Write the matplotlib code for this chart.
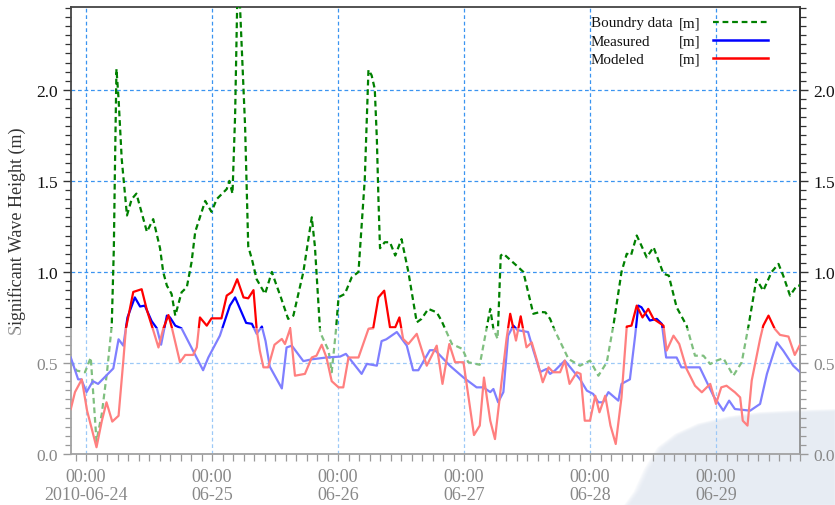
import numpy as np
import pandas as pd
import matplotlib
matplotlib.use("Agg")
import matplotlib.pyplot as plt
import matplotlib.dates as mdates
from matplotlib.patches import Rectangle, Polygon
from matplotlib.lines import Line2D
from matplotlib.ticker import MultipleLocator, FuncFormatter

# ---- data: hours after 2010-06-24 00:00 and significant wave height (m) ----
boundary_hours = [-2.9, -1.8, -0.2, 0.9, 2.0, 3.0, 4.0, 4.9, 5.3, 5.5, 5.8, 6.2, 6.8, 7.8, 8.7,
                  9.6, 11.6, 12.8, 14.1, 14.7, 15.4, 16.3, 17.0, 18.2, 19.2, 20.1, 20.8, 22.7,
                  23.9, 24.9, 26.8, 27.3, 27.9, 28.4, 28.8, 29.3, 30.3, 30.9, 31.6, 32.5, 34.1,
                  35.4, 36.3, 37.0, 38.5, 39.5, 41.4, 43.0, 43.6, 44.6, 46.2, 46.8, 47.6, 48.1,
                  49.3, 50.6, 51.9, 53.1, 53.8, 54.4, 55.0, 55.4, 55.7, 56.0, 56.9, 57.9, 58.9,
                  60.1, 61.4, 63.0, 63.9, 65.2, 66.8, 67.7, 69.7, 71.7, 72.8, 75.0, 77.0, 77.6,
                  78.4, 79.0, 79.5, 82.0, 83.3, 85.2, 86.5, 87.5, 88.4, 89.3, 91.9, 94.1, 96.0,
                  97.6, 99.2, 100.5, 102.0, 103.0, 103.8, 104.9, 105.5, 106.8, 108.1, 110.0,
                  111.0, 112.5, 114.4, 116.0, 117.6, 118.9, 120.1, 121.4, 123.3, 124.9, 126.2,
                  127.7, 129.0, 130.6, 131.9, 132.8, 134.1, 135.4, 136.0]
boundary_hs = [0.513, 0.458, 0.449, 0.53, 0.07, 0.22, 0.45, 0.705, 1.13, 1.55, 2.115, 1.95, 1.62,
               1.31, 1.40, 1.43, 1.22, 1.29, 1.13, 1.0, 0.925, 0.879, 0.76, 0.888, 0.916, 1.053,
               1.22, 1.39, 1.33, 1.40, 1.455, 1.50, 1.43, 1.86, 2.48, 2.48, 1.80, 1.14, 1.07,
               0.96, 0.879, 1.0, 0.925, 0.87, 0.742, 0.76, 1.0, 1.30, 1.14, 0.668, 0.568, 0.449,
               0.678, 0.861, 0.879, 0.97, 1.0, 1.51, 2.11, 2.08, 2.005, 1.73, 1.40, 1.13, 1.163,
               1.163, 1.09, 1.18, 1.0, 0.723, 0.742, 0.797, 0.778, 0.733, 0.604, 0.577, 0.504,
               0.49, 0.797, 0.687, 0.632, 1.09, 1.10, 1.035, 1.0, 0.77, 0.78, 0.778, 0.742,
               0.678, 0.522, 0.485, 0.513, 0.43, 0.504, 0.714, 1.0, 1.10, 1.09, 1.2, 1.163,
               1.08, 1.136, 0.99, 0.98, 0.806, 0.705, 0.54, 0.54, 0.494, 0.513, 0.526, 0.43,
               0.504, 0.705, 0.96, 0.897, 1.0, 1.044, 0.98, 0.87, 0.925, 0.925]

measured_hours = [-2.9, -1.5, -0.9, 0.1, 1.3, 2.3, 5.2, 6.2, 7.1, 7.9, 9.3, 10.3, 11.2, 12.5,
                  13.5, 14.3, 15.4, 16.0, 17.0, 18.2, 22.3, 23.3, 25.5, 27.4, 28.4, 30.5, 31.6,
                  32.5, 33.5, 34.2, 35.0, 37.3, 38.2, 39.2, 41.4, 43.0, 45.8, 48.4, 49.5, 50.6,
                  52.5, 53.5, 55.4, 56.3, 57.2, 59.2, 61.1, 62.3, 63.3, 65.5, 66.5, 69.3, 71.9,
                  74.4, 75.7, 77.0, 77.6, 78.5, 79.5, 80.4, 81.4, 82.2, 84.2, 85.2, 86.5, 87.7,
                  88.4, 89.3, 91.2, 94.1, 95.4, 96.6, 97.6, 98.5, 99.5, 101.4, 102.0, 103.6,
                  104.6, 105.2, 105.8, 107.4, 108.7, 109.7, 110.5, 112.5, 113.4, 116.9, 119.5,
                  121.4, 122.5, 123.6, 126.5, 128.4, 129.7, 131.6, 132.8, 134.7, 136.0]
measured_hs = [0.53, 0.41, 0.41, 0.34, 0.40, 0.385, 0.47, 0.63, 0.595, 0.75, 0.86, 0.81, 0.815,
               0.73, 0.69, 0.60, 0.76, 0.75, 0.705, 0.69, 0.46, 0.53, 0.65, 0.815, 0.86, 0.72,
               0.715, 0.66, 0.70, 0.62, 0.48, 0.36, 0.585, 0.595, 0.51, 0.52, 0.53, 0.535, 0.55,
               0.51, 0.44, 0.495, 0.485, 0.62, 0.63, 0.67, 0.595, 0.46, 0.46, 0.57, 0.57, 0.485,
               0.42, 0.366, 0.366, 0.34, 0.357, 0.284, 0.34, 0.65, 0.705, 0.68, 0.67, 0.57, 0.45,
               0.467, 0.44, 0.458, 0.513, 0.41, 0.348, 0.33, 0.284, 0.284, 0.34, 0.293, 0.385,
               0.41, 0.65, 0.815, 0.806, 0.733, 0.742, 0.714, 0.53, 0.53, 0.476, 0.476, 0.32,
               0.238, 0.293, 0.247, 0.238, 0.275, 0.44, 0.613, 0.568, 0.485, 0.45]

modeled_hours = [-2.9, -2.1, -0.8, 0.2, 2.0, 3.0, 3.9, 5.0, 6.2, 7.1, 7.6, 8.1, 9.0, 10.6, 11.6,
                 12.8, 13.8, 14.7, 15.7, 16.3, 17.9, 18.9, 20.4, 21.1, 21.7, 23.0, 23.9, 25.8,
                 26.8, 27.8, 28.8, 30.0, 30.9, 31.9, 32.5, 33.1, 33.8, 34.7, 35.9, 37.3, 37.9,
                 38.9, 39.8, 41.7, 43.0, 43.9, 44.9, 45.8, 46.8, 48.1, 49.0, 50.0, 51.9, 53.8,
                 54.7, 55.7, 56.8, 57.9, 58.9, 59.7, 60.4, 61.4, 63.0, 64.9, 66.8, 67.9, 69.2,
                 70.3, 71.9, 73.9, 75.0, 75.8, 77.0, 77.9, 78.7, 80.1, 80.8, 81.9, 82.8, 83.9,
                 84.9, 86.0, 87.0, 88.1, 89.0, 90.3, 91.2, 92.1, 93.5, 94.2, 95.0, 96.0, 97.0,
                 97.8, 98.9, 99.9, 100.9, 102.0, 103.0, 103.9, 104.9, 106.0, 107.1, 108.1, 110.0,
                 110.6, 111.9, 113.0, 114.4, 116.0, 117.3, 118.9, 120.0, 121.0, 122.0, 123.6,
                 124.6, 125.1, 126.0, 126.8, 128.4, 129.0, 130.0, 131.2, 132.2, 133.8, 135.0,
                 136.0]
modeled_hs = [0.247, 0.34, 0.41, 0.238, 0.037, 0.18, 0.284, 0.178, 0.21, 0.51, 0.69, 0.76, 0.89,
              0.905, 0.79, 0.68, 0.585, 0.687, 0.763, 0.70, 0.504, 0.544, 0.544, 0.586, 0.75,
              0.705, 0.745, 0.745, 0.87, 0.89, 0.96, 0.86, 0.855, 0.90, 0.687, 0.568, 0.476,
              0.476, 0.60, 0.632, 0.604, 0.69, 0.43, 0.44, 0.53, 0.54, 0.60, 0.53, 0.40, 0.366,
              0.366, 0.53, 0.53, 0.687, 0.69, 0.86, 0.897, 0.696, 0.696, 0.75, 0.632, 0.604,
              0.66, 0.485, 0.595, 0.385, 0.604, 0.504, 0.504, 0.104, 0.156, 0.42, 0.183, 0.082,
              0.284, 0.632, 0.77, 0.623, 0.756, 0.586, 0.613, 0.504, 0.394, 0.476, 0.449, 0.449,
              0.513, 0.385, 0.449, 0.44, 0.183, 0.183, 0.32, 0.229, 0.32, 0.156, 0.055, 0.311,
              0.70, 0.705, 0.815, 0.75, 0.797, 0.742, 0.705, 0.568, 0.65, 0.604, 0.467, 0.375,
              0.339, 0.385, 0.275, 0.366, 0.375, 0.339, 0.311, 0.183, 0.156, 0.403, 0.632,
              0.705, 0.76, 0.687, 0.654, 0.645, 0.544, 0.60]

series_labels = ["Boundry data", "Measured", "Modeled"]
series_units = ["[m]", "[m]", "[m]"]

START = pd.Timestamp("2010-06-24 00:00")


def to_time(hours):
    return START + pd.to_timedelta(np.atleast_1d(np.asarray(hours, dtype=float)), unit="h")


plt.rcParams["font.family"] = ["Liberation Serif", "DejaVu Serif"]

W, H = 835, 506
fig = plt.figure(figsize=(W / 100, H / 100), dpi=100)
ax = fig.add_axes([71 / W, 51 / H, 729 / W, 447 / H])
ax.patch.set_alpha(0)

# soft pale-blue shape in the lower right corner of the page
shape_px = [(628, 506), (638, 492), (648, 470), (661, 449), (678, 436), (700, 426), (730, 419),
            (760, 415), (800, 413), (835, 412), (835, 506)]
cx, cy = 760, 470
for k, s in enumerate(np.linspace(1.035, 0.985, 6)):
    pts = [((cx + (x - cx) * s) / W, 1 - (cy + (y - cy) * s) / H) for x, y in shape_px]
    fig.patches.append(Polygon(pts, closed=True, transform=fig.transFigure,
                               facecolor="#c1cde1", edgecolor="none", alpha=0.2,
                               zorder=-5))

green, blue, red = "#008000", "#0000ff", "#ff0000"
ax.plot(to_time(boundary_hours), boundary_hs, color=green, lw=1.6,
        dashes=(2.6, 1.7), zorder=3)
ax.plot(to_time(measured_hours), measured_hs, color=blue, lw=1.6, zorder=4)
ax.plot(to_time(modeled_hours), modeled_hs, color=red, lw=1.6, zorder=5)

ax.set_xlim(to_time(-2.86)[0], to_time(136.0)[0])
ax.set_ylim(0, 2.455)

ax.xaxis.set_major_locator(mdates.DayLocator())
ax.xaxis.set_minor_locator(mdates.HourLocator(byhour=range(0, 24, 2)))


def day_label(x, pos):
    d = mdates.num2date(x)
    return "00:00\n" + (d.strftime("%Y-%m-%d") if d.day == 24 else d.strftime("%m-%d"))


ax.xaxis.set_major_formatter(FuncFormatter(day_label))
ax.yaxis.set_major_locator(MultipleLocator(0.5))
ax.yaxis.set_minor_locator(MultipleLocator(0.05))
ax.yaxis.set_major_formatter(FuncFormatter(lambda v, p: f"{v:.1f}"))

ax.grid(True, which="major", color="#3a94f0", lw=0.9, linestyle=(0, (3.0, 2.2)))

ax.tick_params(axis="y", which="both", direction="out", left=True, right=True,
               labelleft=True, labelright=True, color="#333333", labelsize=12.5,
               labelcolor="#111111")
ax.tick_params(axis="y", which="major", length=6, width=1, pad=3.5)
ax.tick_params(axis="y", which="minor", length=4, width=0.9)
ax.tick_params(axis="x", which="both", direction="out", length=5, width=0.9,
               color="#333333")
ax.tick_params(axis="x", which="major", labelsize=13, pad=5, labelcolor="#111111")

for side, col in [("top", "#444444"), ("left", "#444444"), ("right", "#222222"),
                  ("bottom", "#444444")]:
    ax.spines[side].set_color(col)
    ax.spines[side].set_linewidth(1.3)

ax.set_ylabel("Significant Wave Height (m)", fontsize=13, color="#333333")
ax.yaxis.set_label_coords(-0.062, 0.5)

# legend, laid out as label / unit / line sample
rows_y = [24, 42, 60]
styles = [dict(color=green, lw=1.6, dashes=(2.6, 1.7)), dict(color=blue, lw=1.8),
          dict(color=red, lw=1.8)]
for lab, unit, y, st in zip(series_labels, series_units, rows_y, styles):
    fy = 1 - y / H
    fig.text(591 / W, fy, lab, ha="left", va="center", fontsize=10.8, color="#111111")
    fig.text(700 / W, fy, unit, ha="right", va="center", fontsize=10.8, color="#111111")
    fig.lines.append(Line2D([713 / W, 768 / W], [fy + 0.002, fy + 0.002],
                            transform=fig.transFigure, **st))

# pale wash over the lower part of the page
fig.patches.append(Rectangle((0, 0), 1, (H - 329) / H, transform=fig.transFigure,
                             facecolor="white", edgecolor="none", alpha=0.5, zorder=100))

fig.canvas.draw()
for lbl in ax.get_xticklabels():
    lbl.set_linespacing(1.1)

fig.savefig("out.png", dpi=100)
